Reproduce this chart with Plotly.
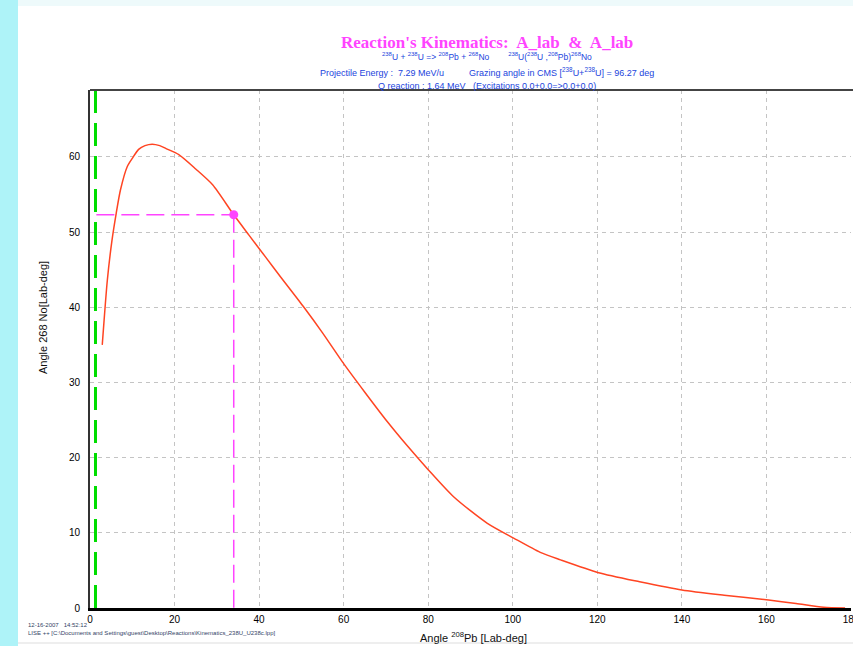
import plotly.graph_objects as go

# Kinematic curve: angle of 208Pb (lab) vs angle of 268No (lab)
angle_pb = [2.9, 4.1, 5.2, 6.2, 7.2, 8.8, 10.0, 11.5, 13.0, 14.7, 16.5, 18.0, 21.0, 25.0,
            29.0, 34.0, 37.6, 41.5, 45.0, 50.6, 55.0, 60.0, 65.0, 70.3, 75.0, 80.0,
            86.0, 93.9, 100.2, 106.5, 111.3, 120.3, 130.0, 140.0, 150.0, 160.5,
            167.0, 173.5, 178.6]
angle_no = [35.0, 43.6, 48.9, 52.5, 55.6, 58.7, 59.8, 61.0, 61.5, 61.7, 61.5, 61.1, 60.3, 58.4,
            56.3, 52.3, 49.6, 46.7, 44.1, 40.0, 36.6, 32.5, 28.7, 24.8, 21.6, 18.4,
            14.8, 11.3, 9.3, 7.4, 6.4, 4.7, 3.5, 2.4, 1.7, 1.06,
            0.6, 0.1, 0.0]

# Selected point and guide lines
sel_x = [34.0]
sel_y = [52.3]
green_x = 1.3
hline_x = [1.5, 34.0]
vline_y = [52.3, 0.0]

x_ticks = [0, 20, 40, 60, 80, 100, 120, 140, 160, 180]
y_ticks = [0, 10, 20, 30, 40, 50, 60]

fig = go.Figure()

fig.add_trace(go.Scatter(x=[green_x, green_x], y=[0, 69], mode="lines",
                         line=dict(color="#00dd00", width=3, dash="23px,10px"),
                         hoverinfo="skip", showlegend=False))
fig.add_trace(go.Scatter(x=hline_x, y=[sel_y[0], sel_y[0]], mode="lines",
                         line=dict(color="#ff44ff", width=1.5, dash="18px,7px"),
                         showlegend=False))
fig.add_trace(go.Scatter(x=[sel_x[0], sel_x[0]], y=vline_y, mode="lines",
                         line=dict(color="#ff44ff", width=1.5, dash="18px,7px"),
                         showlegend=False))
fig.add_trace(go.Scatter(x=angle_pb, y=angle_no, mode="lines",
                         line=dict(color="#ff4422", width=1.5, shape="spline", smoothing=0.7),
                         showlegend=False))
fig.add_trace(go.Scatter(x=sel_x, y=sel_y, mode="markers",
                         marker=dict(color="#ff44ff", size=9),
                         showlegend=False))

px_l, px_r = 90, 851
W, H = 853, 646


def px(xp):
    return (xp - px_l) / (px_r - px_l)


def py(yp):
    return (608 - yp) / (608 - 90)


shapes = [
    dict(type="rect", xref="paper", yref="paper", x0=px(0), x1=px(18), y0=py(646), y1=py(0),
         fillcolor="#aef3f8", line=dict(width=0), layer="below"),
    dict(type="rect", xref="paper", yref="paper", x0=px(18), x1=px(853), y0=py(6), y1=py(0),
         fillcolor="#eefafb", line=dict(width=0), layer="below"),
    dict(type="line", xref="paper", yref="paper", x0=0, x1=px(853), y0=1, y1=1,
         line=dict(color="#444444", width=2)),
    dict(type="line", xref="paper", yref="paper", x0=px(18), x1=px(853), y0=py(643), y1=py(643),
         line=dict(color="#dddddd", width=1)),
]

blue = "#2244dd"
sans = "Liberation Sans, Arial, sans-serif"
annotations = [
    dict(text="<b>Reaction's Kinematics:  A_lab  &  A_lab</b>", x=px(487), y=py(31),
         xref="paper", yref="paper", showarrow=False,
         font=dict(family="Liberation Serif, Times New Roman, serif", size=17, color="#ff44ff")),
    dict(text="<sup>238</sup>U + <sup>238</sup>U => <sup>208</sup>Pb + <sup>268</sup>No"
              "        <sup>238</sup>U(<sup>238</sup>U ,<sup>208</sup>Pb)<sup>268</sup>No",
         x=px(487), y=py(48.5), xref="paper", yref="paper", showarrow=False,
         font=dict(family=sans, size=8.5, color=blue)),
    dict(text="Projectile Energy :  7.29 MeV/u          Grazing angle in CMS [<sup>238</sup>U+<sup>238</sup>U] = 96.27 deg",
         x=px(487), y=py(64), xref="paper", yref="paper", showarrow=False,
         font=dict(family=sans, size=9, color=blue)),
    dict(text="Q reaction : 1.64 MeV   (Excitations 0.0+0.0=>0.0+0.0)",
         x=px(487), y=py(79), xref="paper", yref="paper", showarrow=False,
         font=dict(family=sans, size=9, color=blue)),
    dict(text="Angle <sup>208</sup>Pb [Lab-deg]", x=px(473), y=py(646), yanchor="bottom",
         xref="paper", yref="paper", showarrow=False,
         font=dict(family=sans, size=11, color="#111111")),
    dict(text="Angle 268 No[Lab-deg]", x=px(35), y=py(318), textangle=-90,
         xref="paper", yref="paper", showarrow=False,
         font=dict(family=sans, size=11, color="#111111")),
    dict(text="12-16-2007   14:52:12", x=px(26), y=py(630), xanchor="left",
         xref="paper", yref="paper", showarrow=False,
         font=dict(family=sans, size=6, color="#334466")),
    dict(text="LISE ++ [C:\\Documents and Settings\\guest\\Desktop\\Reactions\\Kinematics_238U_U238c.lpp]",
         x=px(26), y=py(638), xanchor="left",
         xref="paper", yref="paper", showarrow=False,
         font=dict(family=sans, size=6, color="#334466")),
]

fig.update_layout(
    width=W, height=H,
    margin=dict(l=px_l, r=W - px_r, t=90, b=H - 608, pad=0, autoexpand=False),
    paper_bgcolor="white", plot_bgcolor="white",
    shapes=shapes, annotations=annotations,
    showlegend=False,
    xaxis=dict(range=[0, 180], tickvals=x_ticks, ticktext=[str(v) for v in x_ticks],
               showgrid=True, gridcolor="#c4c4c4", griddash="4px,4px", gridwidth=1,
               showline=True, linecolor="#000000", linewidth=3, zeroline=False,
               ticks="", ticklabeloverflow="allow", ticklabelstandoff=0,
               automargin=False,
               tickfont=dict(family=sans, size=10, color="#000"),
               fixedrange=True),
    yaxis=dict(range=[0, 68.9], tickvals=y_ticks, ticktext=[str(v) for v in y_ticks],
               showgrid=True, gridcolor="#c4c4c4", griddash="4px,4px", gridwidth=1,
               showline=True, linecolor="#333333", linewidth=2, zeroline=False,
               ticks="", ticklabelstandoff=6, automargin=False,
               tickfont=dict(family=sans, size=10, color="#000"),
               fixedrange=True),
)

fig.write_html("out.html")
